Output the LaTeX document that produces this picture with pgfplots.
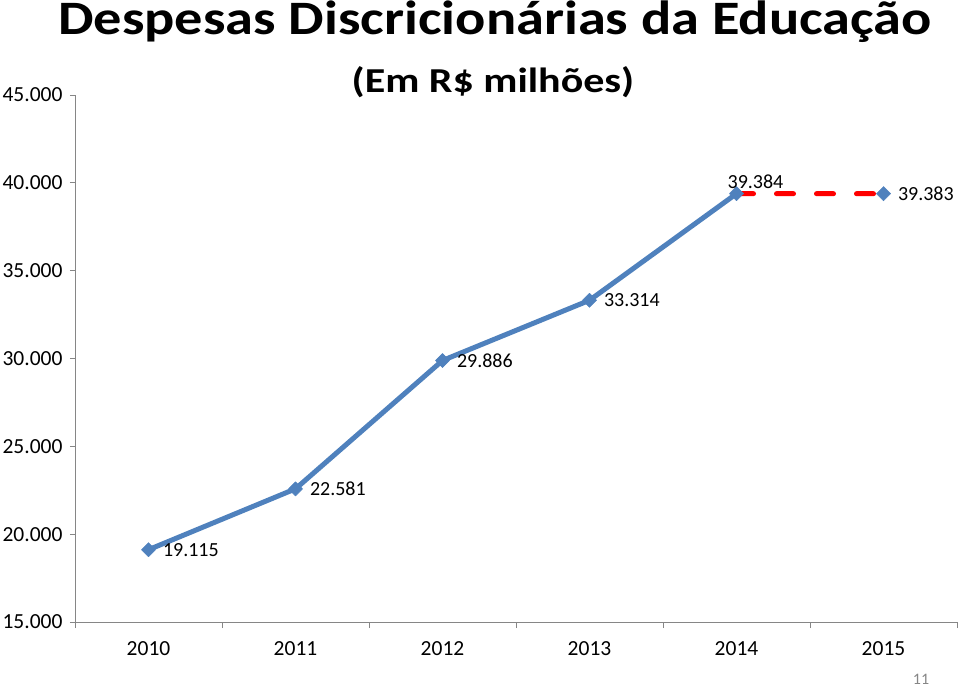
\documentclass[border=0pt]{standalone}
\usepackage{pgfplots}
\pgfplotsset{compat=1.18}
\usepackage{fontspec}
\setmainfont{Carlito}
\definecolor{lblue}{HTML}{4F81BD}
\definecolor{axgray}{HTML}{868686}
\begin{document}
\begin{tikzpicture}
\useasboundingbox (-75pt,-66pt) rectangle (885pt,622pt);
\begin{axis}[
  at={(0pt,0pt)}, anchor=south west,
  scale only axis, width=882pt, height=527pt,
  xmin=-0.5, xmax=5.5, ymin=15000, ymax=45000,
  axis x line=bottom, axis y line=left,
  axis line style={axgray, line width=0.8pt, -},
  xtick={0,1,2,3,4,5},
  xticklabels={2010,2011,2012,2013,2014,2015},
  minor xtick={-0.5,0.5,1.5,2.5,3.5,4.5,5.5},
  ytick={15000,20000,25000,30000,35000,40000,45000},
  scaled y ticks=false,
  tick align=outside,
  major x tick style={draw=none},
  minor x tick style={axgray, line width=0.8pt},
  minor tick length=6pt,
  major tick length=5pt,
  ytick style={axgray, line width=0.8pt},
  tick label style={font=\fontsize{21.5}{24}\selectfont, text=black},
  /pgf/number format/.cd, 1000 sep={.}, assume math mode=true,
  /pgfplots/.cd,
  xticklabel style={yshift=-11pt},
  yticklabel style={xshift=-4pt},
  clip=false,
]
% red dashed projection
\addplot[red, line width=5pt, line cap=round, dash pattern=on 17pt off 23pt, mark=none]
  coordinates {(4,39384) (5,39383)};
% blue series
\addplot[lblue, line width=5pt, line join=round, mark=square*, mark size=5pt,
  mark options={rotate=45, solid, line width=0.5pt, fill=lblue, draw=lblue}]
  coordinates {(0,19115) (1,22581) (2,29886) (3,33314) (4,39384)};
\addplot[only marks, mark=square*, mark size=5pt,
  mark options={rotate=45, line width=0.5pt, fill=lblue, draw=lblue}]
  coordinates {(5,39383)};
% labels to the right
\addplot[draw=none, mark=none, nodes near coords, point meta=explicit symbolic,
  every node near coord/.style={anchor=west, xshift=11pt, font=\fontsize{20}{23}\selectfont, text=black}]
  coordinates {(0,19115)[19.115] (1,22581)[22.581] (2,29886)[29.886] (3,33314)[33.314] (5,39383)[39.383]};
% label above
\addplot[draw=none, mark=none, nodes near coords, point meta=explicit symbolic,
  every node near coord/.style={anchor=south, xshift=19pt, yshift=1pt, font=\fontsize{20}{23}\selectfont, text=black}]
  coordinates {(4,39384)[39.384]};
\end{axis}
\node[anchor=base] at (420pt,587pt) {\scalebox{1.175}[1]{\fontsize{48}{54}\selectfont\bfseries Despesas Discricionárias da Educação}};
\node[anchor=base] at (418pt,529pt) {\scalebox{1.2}[1]{\fontsize{35}{40}\selectfont\bfseries (Em R\$ milhões)}};
\node[text=axgray, anchor=base, inner sep=0pt] at (846pt,-62pt) {\fontsize{16}{18}\selectfont 11};
\end{tikzpicture}
\end{document}
